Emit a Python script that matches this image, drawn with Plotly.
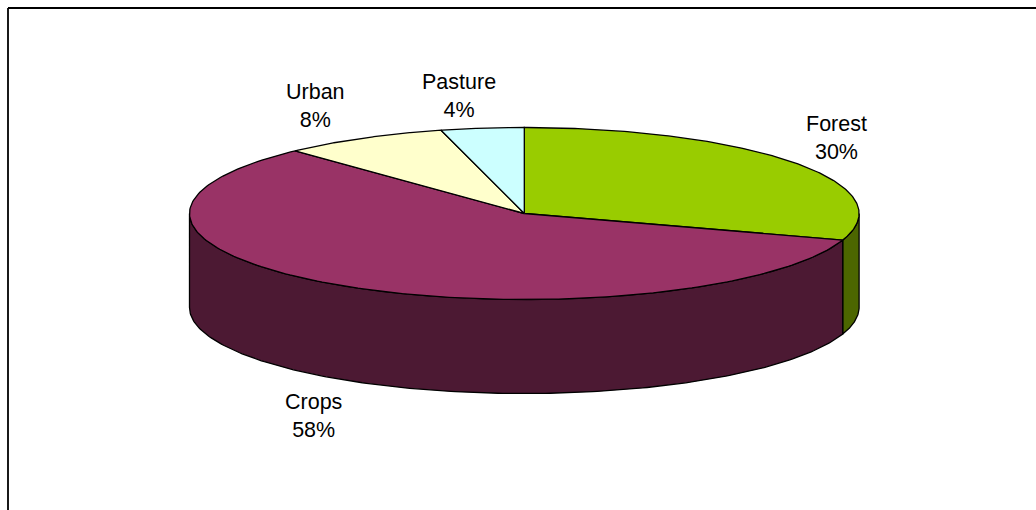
import numpy as np
import plotly.graph_objects as go

# Land-use shares, drawn clockwise from 12 o'clock
categories = ["Forest", "Crops", "Urban", "Pasture"]
shares = [30, 58, 8, 4]

top_colors = ["#99CC00", "#993366", "#FFFFCC", "#CCFFFF"]

# Label anchor points (page pixels) for each category
label_x = [836, 313, 315, 459]
label_y = [138, 416, 106, 96]

# Tilted-disc geometry in page pixels
CX, CY = 524.3, 213.5
RX, RY = 334.8, 86.0
DEPTH = 94.0
W, H = 1036, 510


def darken(hex_color, f=0.5):
    h = hex_color.lstrip("#")
    r, g, b = (int(h[i:i + 2], 16) for i in (0, 2, 4))
    return "#{:02X}{:02X}{:02X}".format(int(r * f), int(g * f), int(b * f))


def rim(a0, a1, n=200):
    t = np.radians(np.linspace(a0, a1, n))
    return CX + RX * np.sin(t), CY - RY * np.cos(t)


fig = go.Figure()

total = float(sum(shares))
bounds = np.concatenate([[0.0], np.cumsum(shares) / total * 360.0])

# Front walls (only the half facing the viewer, 90..270 deg)
for i, cat in enumerate(categories):
    a0, a1 = bounds[i], bounds[i + 1]
    s, e = max(a0, 90.0), min(a1, 270.0)
    if e <= s:
        continue
    xt, yt = rim(s, e)
    xs = np.concatenate([xt, xt[::-1], xt[:1]])
    ys = np.concatenate([yt, (yt + DEPTH)[::-1], yt[:1]])
    fig.add_trace(go.Scatter(
        x=xs, y=ys, mode="lines", fill="toself",
        fillcolor=darken(top_colors[i]),
        line=dict(color="black", width=1.3),
        hoverinfo="skip", showlegend=False,
    ))

# Top faces of the wedges
for i, cat in enumerate(categories):
    a0, a1 = bounds[i], bounds[i + 1]
    xt, yt = rim(a0, a1)
    xs = np.concatenate([[CX], xt, [CX]])
    ys = np.concatenate([[CY], yt, [CY]])
    fig.add_trace(go.Scatter(
        x=xs, y=ys, mode="lines", fill="toself",
        fillcolor=top_colors[i],
        line=dict(color="black", width=1.3),
        hoverinfo="skip", showlegend=False,
    ))

# Category labels with percentages
for i, cat in enumerate(categories):
    fig.add_annotation(
        x=label_x[i], y=label_y[i], xref="x", yref="y",
        text=f"{cat}<br>{shares[i]}%", showarrow=False,
        xanchor="center", yanchor="middle", align="center",
        font=dict(family="Liberation Sans, Arial, sans-serif", size=21.5, color="black"),
    )

# Chart-area frame (top and left edges)
fig.add_shape(type="line", x0=8, y0=8, x1=W, y1=8,
              line=dict(color="black", width=1.8), layer="above")
fig.add_shape(type="line", x0=8, y0=8, x1=8, y1=H,
              line=dict(color="black", width=1.8), layer="above")

fig.update_layout(
    width=W, height=H,
    margin=dict(l=0, r=0, t=0, b=0),
    paper_bgcolor="white", plot_bgcolor="white",
    xaxis=dict(range=[0, W], visible=False, fixedrange=True),
    yaxis=dict(range=[H, 0], visible=False, fixedrange=True),
    showlegend=False,
)

fig.write_html("out.html", config={"displayModeBar": False})
